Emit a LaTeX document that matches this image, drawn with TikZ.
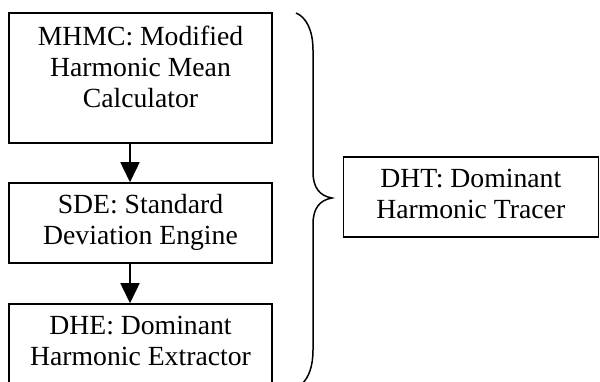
\documentclass[tikz,border=0pt]{standalone}
\usepackage{fontspec}
\setmainfont{Liberation Serif}
\usepackage{tikz}
\usetikzlibrary{arrows.meta,positioning}

\begin{document}
\begin{tikzpicture}[x=1pt, y=1pt, node distance=38.5pt, line width=1.5pt,
    every node/.style={font=\fontsize{27.7}{31}\selectfont, inner sep=0pt}]

    \useasboundingbox (0,0) rectangle (600,-382);

    % Stages
    \node[draw, rectangle, minimum width=263pt, minimum height=130pt] (mhmc) at (140.5,-78) {
        \begin{tabular}{c}
            MHMC: Modified \\
            Harmonic Mean \\
            Calculator \\[16pt]
        \end{tabular}
    };

    \node[draw, rectangle, minimum width=263pt, minimum height=80pt, below=of mhmc] (sde) {
        \begin{tabular}{c}
            SDE: Standard \\
            Deviation Engine
        \end{tabular}
    };

    \node[draw, rectangle, minimum width=263pt, minimum height=80pt, below=39.5pt of sde] (dhe) {
        \begin{tabular}{c}
            DHE: Dominant \\
            Harmonic Extractor
        \end{tabular}
    };

    % Whole tracer
    \node[draw, rectangle, minimum width=255pt, minimum height=80pt] (dht) at (470.75,-197) {
        \begin{tabular}{c}
            DHT: Dominant \\
            Harmonic Tracer
        \end{tabular}
    };

    % Brace
    \draw (296,-13) .. controls (306,-17) and (313,-30) .. (313,-50)
        -- (313,-172) .. controls (313,-188) and (320,-196) .. (332,-198)
        .. controls (320,-200) and (313,-208) .. (313,-224)
        -- (313,-350) .. controls (313,-366) and (309,-377) .. (302,-384);

    % Flow
    \draw[-{Triangle[width=19pt,length=20pt]}] ([xshift=-10.5pt]mhmc.south) -- ([xshift=-10.5pt]sde.north);
    \draw[-{Triangle[width=19pt,length=20pt]}] ([xshift=-10.5pt]sde.south) -- ([xshift=-10.5pt]dhe.north);

\end{tikzpicture}
\end{document}
